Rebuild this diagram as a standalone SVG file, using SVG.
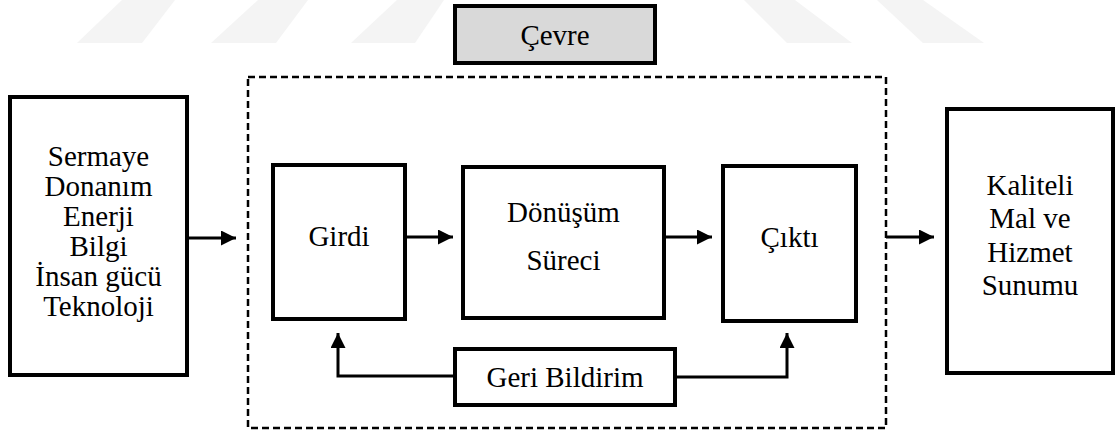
<svg xmlns="http://www.w3.org/2000/svg" width="1116" height="432" viewBox="0 0 1116 432">
  <style>
    .box { fill: #ffffff; stroke: #000000; stroke-width: 4; }
    .env { fill: #d9d9d9; stroke: #000000; stroke-width: 4; }
    .frame { fill: none; stroke: #000000; stroke-width: 2.5; stroke-dasharray: 7 4; }
    .lbl { font-family: "Liberation Serif", "Times New Roman", Times, Tinos, "Nimbus Roman", FreeSerif, "DejaVu Serif", "Noto Serif", serif; font-size: 29px; fill: #000000; text-anchor: middle; }
    .wire { fill: none; stroke: #000000; stroke-width: 3; }
    .mark { fill: #f4f4f4; }
  </style>
  <defs>
    <marker id="head" markerUnits="userSpaceOnUse" markerWidth="16" markerHeight="16" refX="15" refY="7.5" orient="auto">
      <path d="M0,0 L15,7.5 L0,15 Z" fill="#000000"/>
    </marker>
  </defs>

  <rect width="1116" height="432" fill="#ffffff"/>

  <!-- faint background stripes -->
  <g id="backdrop">
    <polygon class="mark" points="77,43 142,43 175,0 122,0"/>
    <polygon class="mark" points="211,43 276,43 308,0 258,0"/>
    <polygon class="mark" points="351,43 415,43 444,0 397,0"/>
    <polygon class="mark" points="787,43 852,43 795,0 744,0"/>
    <polygon class="mark" points="923,43 984,43 923,0 877,0"/>
  </g>

  <!-- environment -->
  <g id="cevre">
    <rect class="env" x="455" y="6" width="200" height="57"/>
    <text class="lbl" x="555" y="45">Çevre</text>
  </g>

  <!-- system boundary -->
  <g id="sistem">
    <rect class="frame" x="248" y="77" width="638" height="351"/>
  </g>

  <g id="kaynaklar">
    <rect class="box" x="10" y="97" width="177" height="278"/>
    <text class="lbl" x="98.5" y="166">Sermaye</text>
    <text class="lbl" x="98.5" y="196">Donanım</text>
    <text class="lbl" x="98.5" y="226">Enerji</text>
    <text class="lbl" x="98.5" y="256">Bilgi</text>
    <text class="lbl" x="98.5" y="286">İnsan gücü</text>
    <text class="lbl" x="98.5" y="316">Teknoloji</text>
  </g>

  <g id="girdi">
    <rect class="box" x="273" y="165" width="132" height="154"/>
    <text class="lbl" x="339" y="246">Girdi</text>
  </g>

  <g id="donusum">
    <rect class="box" x="463" y="167" width="201" height="151"/>
    <text class="lbl" x="563.5" y="222">Dönüşüm</text>
    <text class="lbl" x="563.5" y="270">Süreci</text>
  </g>

  <g id="cikti">
    <rect class="box" x="723" y="166" width="133" height="155"/>
    <text class="lbl" x="789.5" y="247">Çıktı</text>
  </g>

  <g id="sonuc">
    <rect class="box" x="947" y="109" width="166" height="264"/>
    <text class="lbl" x="1030" y="195">Kaliteli</text>
    <text class="lbl" x="1030" y="228">Mal ve</text>
    <text class="lbl" x="1030" y="262">Hizmet</text>
    <text class="lbl" x="1030" y="295">Sunumu</text>
  </g>

  <g id="geri-bildirim">
    <rect class="box" x="455" y="349" width="220" height="56"/>
    <text class="lbl" x="565" y="387">Geri Bildirim</text>
  </g>

  <!-- connectors -->
  <g id="baglantilar">
    <line class="wire" x1="189" y1="238" x2="236" y2="238" marker-end="url(#head)"/>
    <line class="wire" x1="407" y1="237" x2="453" y2="237" marker-end="url(#head)"/>
    <line class="wire" x1="666" y1="237" x2="712" y2="237" marker-end="url(#head)"/>
    <line class="wire" x1="886" y1="237" x2="934" y2="237" marker-end="url(#head)"/>
    <path class="wire" d="M453,376 H338 V333" marker-end="url(#head)"/>
    <path class="wire" d="M677,377 H787 V333" marker-end="url(#head)"/>
  </g>
</svg>
